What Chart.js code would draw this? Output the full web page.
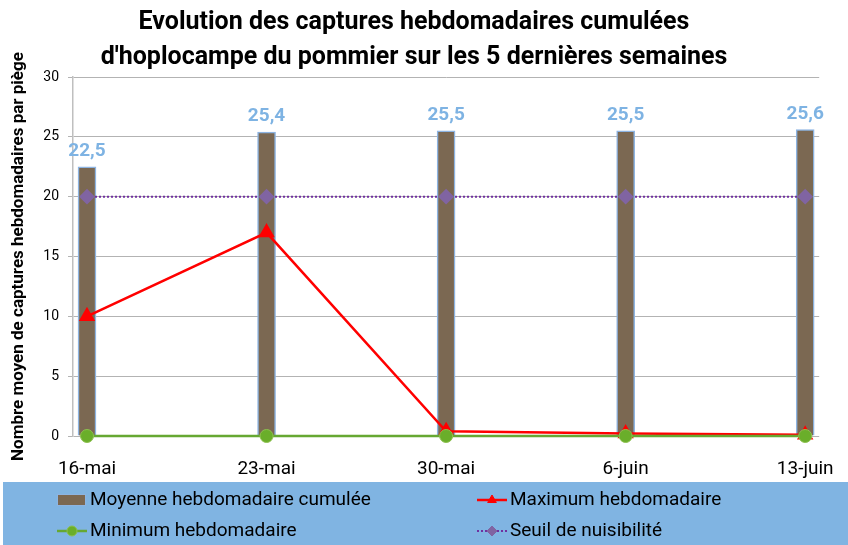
<!DOCTYPE html>
<html lang="fr">
<head>
<meta charset="utf-8">
<title>Captures hoplocampe</title>
<script src="https://cdn.jsdelivr.net/npm/chart.js@4.4.0/dist/chart.umd.min.js"></script>
<style>
  html, body { margin: 0; padding: 0; background: #fff; }
  #wrap { position: relative; width: 848px; height: 545px; }
</style>
</head>
<body>
<div id="wrap"><canvas id="graphique"></canvas></div>
<script>
// Données
const semaines = ['16-mai', '23-mai', '30-mai', '6-juin', '13-juin'];
const moyenneCumulee = [22.5, 25.4, 25.5, 25.5, 25.6];
const maximumHebdo = [10, 17, 0.4, 0.2, 0.1];
const minimumHebdo = [0, 0, 0, 0, 0];
const seuilNuisibilite = [20, 20, 20, 20, 20];
const ticksY = [0, 5, 10, 15, 20, 25, 30];

const enPoints = (valeurs) => valeurs.map((v, i) => ({ x: i, y: v }));

// Étiquettes de valeur au-dessus des barres
const etiquettesBarres = {
    id: 'etiquettesBarres',
    afterDatasetsDraw(chart) {
        const ctx = chart.ctx;
        const meta = chart.getDatasetMeta(0);
        ctx.save();
        ctx.font = 'bold 19px Roboto';
        ctx.fillStyle = '#7EB3E3';
        ctx.textAlign = 'center';
        ctx.textBaseline = 'alphabetic';
        meta.data.forEach((bar, i) => {
            const texte = String(moyenneCumulee[i]).replace('.', ',');
            ctx.fillText(texte, bar.x, bar.y - 11);
        });
        ctx.restore();
    }
};

// Légende dans un bandeau bleu, sur deux colonnes
const legendeBandeau = {
    id: 'legendeBandeau',
    afterDraw(chart) {
        const ctx = chart.ctx;
        const ds = chart.data.datasets;
        ctx.save();
        ctx.fillStyle = '#80B4E2';
        ctx.fillRect(3, 482, 845, 63);

        const items = [
            { d: ds[0], x: 57, y: 500, type: 'box' },
            { d: ds[1], x: 477, y: 500, type: 'line' },
            { d: ds[2], x: 57, y: 531, type: 'line' },
            { d: ds[3], x: 477, y: 531, type: 'line' }
        ];
        items.forEach(it => {
            const d = it.d;
            if (it.type === 'box') {
                ctx.fillStyle = d.backgroundColor;
                ctx.fillRect(it.x, it.y - 6, 29, 12);
                ctx.strokeStyle = d.borderColor;
                ctx.lineWidth = 1;
                ctx.strokeRect(it.x + 0.5, it.y - 5.5, 28, 11);
            } else {
                ctx.strokeStyle = d.borderColor;
                ctx.lineWidth = d.borderWidth;
                ctx.setLineDash(d.borderDash || []);
                ctx.beginPath();
                ctx.moveTo(it.x, it.y);
                ctx.lineTo(it.x + 30, it.y);
                ctx.stroke();
                ctx.setLineDash([]);
                ctx.fillStyle = d.pointBackgroundColor;
                ctx.strokeStyle = d.pointBorderColor;
                ctx.lineWidth = 1;
                Chart.helpers.drawPoint(ctx, {
                    pointStyle: d.pointStyle,
                    radius: 5,
                    rotation: 0,
                    borderWidth: 1
                }, it.x + 15, it.y);
            }
            ctx.fillStyle = '#000';
            ctx.font = '19px Roboto';
            ctx.textAlign = 'left';
            ctx.textBaseline = 'middle';
            ctx.fillText(d.label, it.x + 33, it.y);
        });
        ctx.restore();
    }
};

new Chart(document.getElementById('graphique'), {
    data: {
        datasets: [
            {
                type: 'bar',
                label: 'Moyenne hebdomadaire cumulée',
                data: enPoints(moyenneCumulee),
                backgroundColor: '#7B6852',
                borderColor: '#8DB4E2',
                borderWidth: 1.5,
                barThickness: 18,
                order: 10
            },
            {
                type: 'line',
                label: 'Maximum hebdomadaire',
                data: enPoints(maximumHebdo),
                borderColor: '#FF0000',
                borderWidth: 2.5,
                pointStyle: 'triangle',
                pointRadius: 7,
                pointBackgroundColor: '#FF0000',
                pointBorderColor: '#FF0000',
                tension: 0,
                clip: 10,
                order: 3
            },
            {
                type: 'line',
                label: 'Minimum hebdomadaire',
                data: enPoints(minimumHebdo),
                borderColor: '#66A832',
                borderWidth: 2.5,
                pointStyle: 'circle',
                pointRadius: 6.5,
                pointBackgroundColor: '#6AAE2A',
                pointBorderColor: '#8CC04E',
                pointBorderWidth: 1,
                tension: 0,
                clip: 10,
                order: 2
            },
            {
                type: 'line',
                label: 'Seuil de nuisibilité',
                data: enPoints(seuilNuisibilite),
                borderColor: '#7030A0',
                borderWidth: 2,
                borderDash: [2, 2],
                pointStyle: 'rectRot',
                pointRadius: 6.5,
                pointBackgroundColor: '#8064A2',
                pointBorderColor: '#8064A2',
                tension: 0,
                clip: 10,
                order: 1
            }
        ]
    },
    options: {
        responsive: true,
        maintainAspectRatio: false,
        animation: false,
        layout: { padding: { top: 0, left: 3, right: 23, bottom: 63 } },
        plugins: {
            legend: { display: false },
            tooltip: { enabled: false },
            title: {
                display: true,
                text: ['Evolution des captures hebdomadaires cumulées',
                       "d'hoplocampe du pommier sur les 5 dernières semaines"],
                font: { family: 'Roboto', size: 25, weight: 'bold', lineHeight: 1.4 },
                color: '#000',
                padding: { top: 5, bottom: 2 }
            }
        },
        scales: {
            x: {
                type: 'linear',
                offset: false,
                min: -0.078,
                max: 4.078,
                grid: { display: false },
                border: { display: false },
                afterBuildTicks: (scale) => {
                    scale.ticks = semaines.map((_, i) => ({ value: i }));
                },
                afterFit: (scale) => { scale.height = 46; },
                ticks: {
                    autoSkip: false,
                    maxRotation: 0,
                    padding: 14,
                    color: '#000',
                    font: { family: 'Roboto', size: 19 },
                    callback: (v) => semaines[v]
                }
            },
            y: {
                min: 0,
                max: 30,
                afterBuildTicks: (scale) => {
                    scale.ticks = ticksY.map(v => ({ value: v }));
                },
                afterFit: (scale) => { scale.width = 70; },
                grid: { color: '#B3B3B3', tickLength: 5, lineWidth: 1 },
                border: { color: '#BFBFBF', width: 1.5 },
                ticks: {
                    padding: 9,
                    color: '#000',
                    font: { family: 'Roboto', size: 14 }
                },
                title: {
                    display: true,
                    text: 'Nombre moyen de captures hebdomadaires par piège',
                    color: '#000',
                    font: { family: 'Roboto', size: 17, weight: 'bold', lineHeight: 1.2 },
                    padding: { top: 6, bottom: 0 }
                }
            }
        }
    },
    plugins: [etiquettesBarres, legendeBandeau]
});
</script>
</body>
</html>
